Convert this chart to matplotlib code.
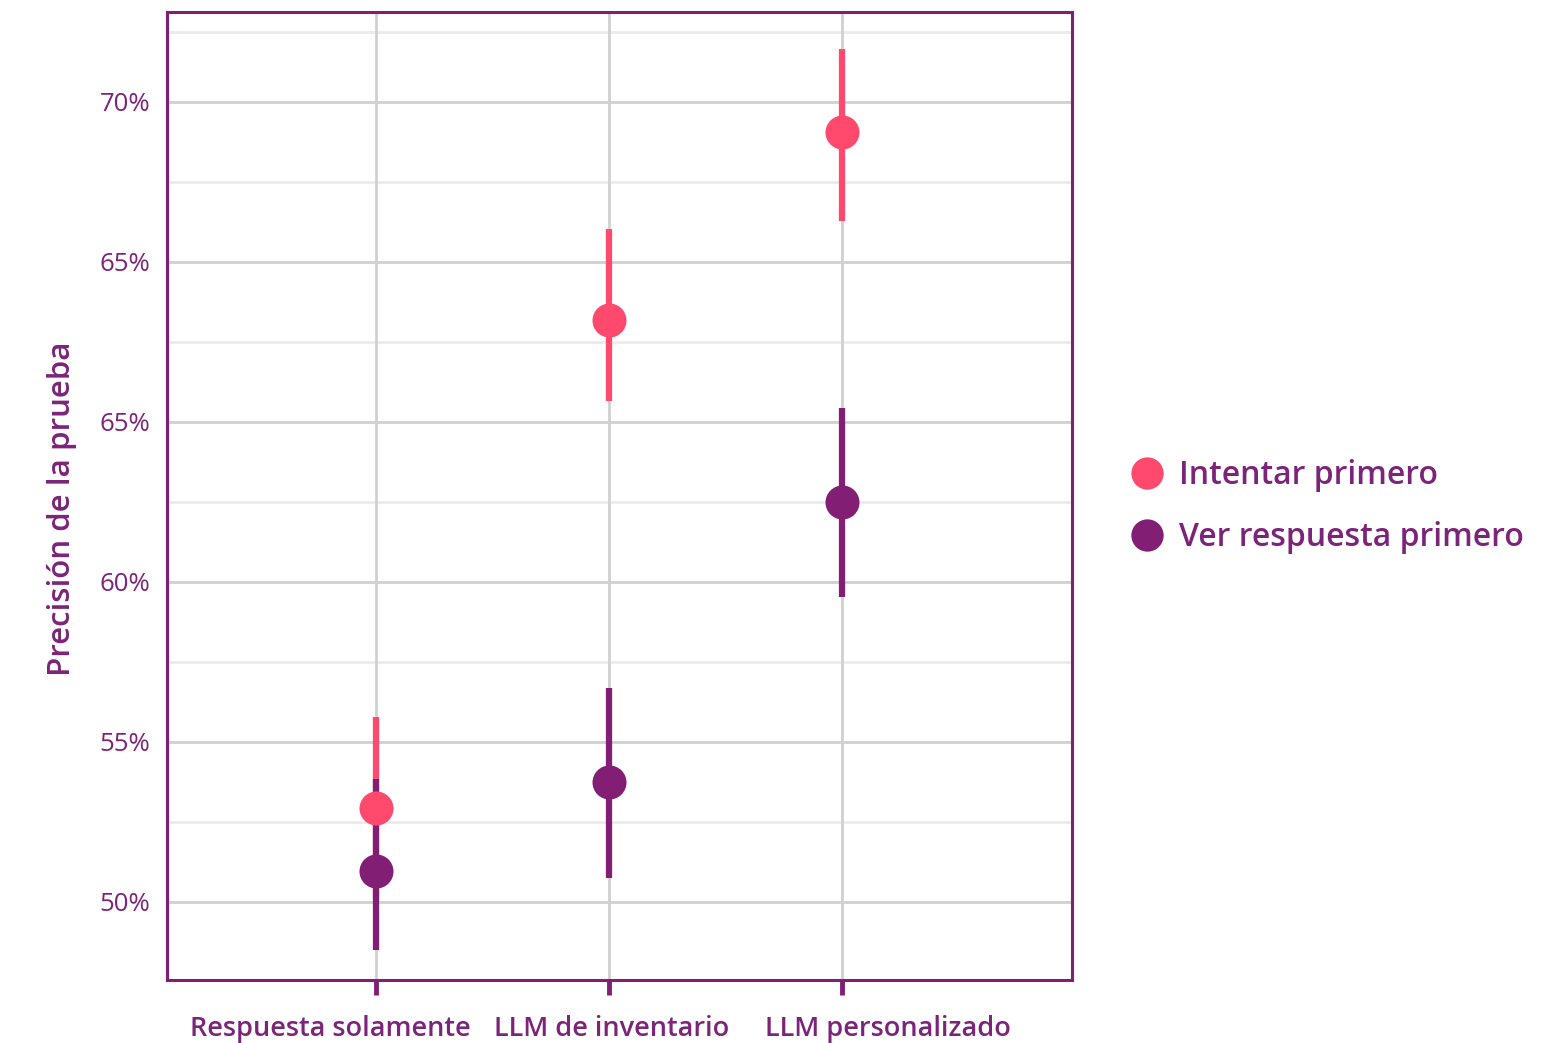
import numpy as np
import matplotlib
matplotlib.use("Agg")
import matplotlib.pyplot as plt
import matplotlib.transforms as mtransforms

# categories and estimates (internal scale; the source tick labels are kept verbatim)
categories = ["Respuesta solamente", "LLM de inventario", "LLM personalizado"]
groups = ["Intentar primero", "Ver respuesta primero"]

try_mean = [52.94, 68.19, 74.06]
try_low = [50.10, 65.66, 71.28]
try_high = [55.78, 71.03, 76.63]

see_mean = [50.97, 53.75, 62.50]
see_low = [48.50, 50.75, 59.53]
see_high = [53.84, 56.69, 65.44]

ytick_values = [50, 55, 60, 65, 70, 75]
ytick_labels = ["50%", "55%", "60%", "65%", "65%", "70%"]
minor_values = [52.5, 57.5, 62.5, 67.5, 72.5, 77.16]

PINK = "#FF4A6E"
PURPLE = "#821F74"
TEXT = "#7B2479"
WEIGHT = 600

plt.rcParams["font.family"] = ["Open Sans", "DejaVu Sans"]

fig = plt.figure(figsize=(15.55, 10.43), dpi=100)
ax = fig.add_axes([0.1074, 0.0604, 0.5820, 0.9281])

x = np.arange(1, len(categories) + 1)

# grid
for v in minor_values:
    ax.axhline(v, color="#EBEBEB", lw=2, zorder=0)
for v in ytick_values:
    ax.axhline(v, color="#D0D0D0", lw=2, zorder=0)
for xi in x:
    ax.axvline(xi, color="#D0D0D0", lw=2, zorder=0)

# error bars and points
ax.vlines(x, try_low, try_high, color=PINK, lw=4.5, zorder=2)
ax.vlines(x, see_low, see_high, color=PURPLE, lw=4.5, zorder=3)
ax.plot(x, try_mean, "o", color=PINK, ms=24.5, mew=0, zorder=4, label=groups[0])
ax.plot(x, see_mean, "o", color=PURPLE, ms=24.5, mew=0, zorder=5, label=groups[1])

ax.set_xlim(0.101, 3.99)
ax.set_ylim(47.56, 77.8)

ax.set_xticks(x)
ax.set_xticklabels(categories, fontsize=19.5, color=TEXT, fontweight=WEIGHT)
ax.set_yticks(ytick_values)
ax.set_yticklabels(ytick_labels, fontsize=18.5, color=TEXT)
ax.tick_params(axis="x", length=11, width=3.5, color=PURPLE, pad=14)
ax.tick_params(axis="y", length=0, pad=12)

# the outer labels sit pushed away from their ticks in the source
for lab, dx in zip(ax.get_xticklabels(), [-46, 3, 46]):
    lab.set_transform(lab.get_transform() +
                      mtransforms.ScaledTranslation(dx / 100, 0, fig.dpi_scale_trans))

for s in ax.spines.values():
    s.set_color(PURPLE)
    s.set_linewidth(2.2)

ax.set_ylabel("Precisión de la prueba", fontsize=22.5, color=TEXT,
              fontweight=WEIGHT)
ax.yaxis.set_label_coords(-0.1, 0.487)

leg = ax.legend(loc="center left", bbox_to_anchor=(1.033, 0.489), frameon=False,
                prop={"size": 23, "weight": WEIGHT}, handletextpad=0.5,
                labelspacing=0.9, handlelength=1.0, markerscale=0.95)
for t in leg.get_texts():
    t.set_color(TEXT)

fig.savefig("out.png", dpi=100)
